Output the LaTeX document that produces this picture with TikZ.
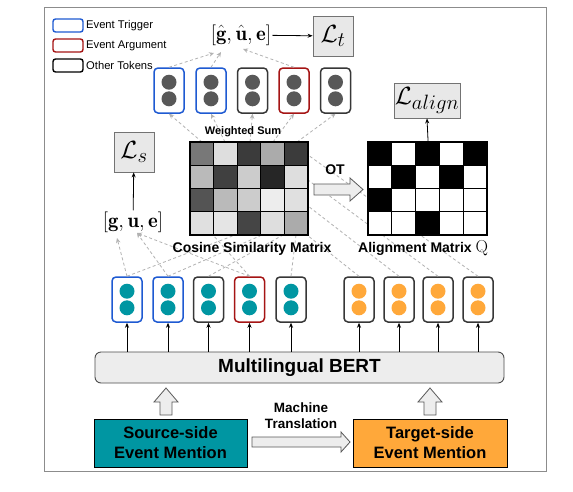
\documentclass[tikz,border=0pt]{standalone}
\usepackage{fontspec}
\setsansfont{Liberation Sans}
\usetikzlibrary{arrows.meta}
\definecolor{trig}{RGB}{30,90,210}
\definecolor{argc}{RGB}{165,20,20}
\definecolor{othc}{RGB}{55,55,55}
\definecolor{teal}{RGB}{0,150,162}
\definecolor{orng}{RGB}{255,168,58}
\definecolor{dotg}{RGB}{88,88,88}
\definecolor{frame}{RGB}{140,140,140}
\newcommand{\tokbox}[5]{%
  \node[tok, draw=#4] (#1) at (#2,#3) {};
  \fill[#5] (#2,#3-8.3) circle[radius=7.5pt];
  \fill[#5] (#2,#3+8.3) circle[radius=7.5pt];}
\begin{document}
\begin{tikzpicture}[x=1pt,y=-1pt,
  tok/.style={rounded corners=4pt, line width=1.5pt, minimum width=30pt, minimum height=45pt, inner sep=0pt, fill=white},
  dsh/.style={draw=black!30, dash pattern=on 3pt off 2.5pt, line width=0.8pt},
  dsharr/.style={dsh, -{Stealth[length=5pt,width=4.5pt]}},
  lossbox/.style={draw=black!55, fill=black!9, line width=0.8pt, inner sep=0pt},
  solidarr/.style={draw=black, line width=0.8pt, -{Stealth[length=5pt,width=4pt]}},
  hollow/.style={draw=black!65, fill=black!7, line width=0.8pt, line join=miter},
  lbl/.style={font=\sffamily\bfseries\fontsize{14}{14}\selectfont, inner sep=0pt},
  legtxt/.style={font=\sffamily\fontsize{11.2}{11.2}\selectfont, anchor=west, inner sep=0pt},
  legbox/.style={rounded corners=2.5pt, line width=1.4pt, minimum width=30pt, minimum height=13pt, inner sep=0pt}]
\useasboundingbox (0,0) rectangle (573,491);
\fill[white] (0,0) rectangle (573,491);
% outer frame
\draw[frame, line width=1pt] (44,7) rectangle (546,471);

% legend
\node[legbox, draw=trig] (lg1) at (68,25.5) {};
\node[legbox, draw=argc] (lg2) at (68,45.5) {};
\node[legbox, draw=black] (lg3) at (68,65.5) {};
\node[legtxt] (lt1) at (86,25.5) {Event Trigger};
\node[legtxt] (lt2) at (86,45.5) {Event Argument};
\node[legtxt] (lt3) at (86,65.5) {Other Tokens};

% coordinates for dashed connections
\coordinate (gA) at (117,238);
\coordinate (gB) at (137,233);
\coordinate (hA) at (214,53);
\coordinate (hB) at (221,52);
\coordinate (hC) at (243,49);

\coordinate (cb1) at (235,235);
\coordinate (cb2) at (262,235);
\coordinate (cb3) at (283,235);
\coordinate (cb4) at (213,235);
\coordinate (cb5) at (296,235);
\coordinate (cr1) at (308,155);
\coordinate (cr2) at (308,180);
\coordinate (cr3) at (308,206);
\coordinate (cr4) at (307,235);

% bottom tokens
\tokbox{s1}{127}{299.5}{trig}{teal}
\tokbox{s2}{168}{299.5}{trig}{teal}
\tokbox{s3}{208.5}{299.5}{othc}{teal}
\tokbox{s4}{249.5}{299.5}{argc}{teal}
\tokbox{s5}{291}{299.5}{othc}{teal}
\tokbox{r1}{359}{299.5}{othc}{orng}
\tokbox{r2}{399}{299.5}{othc}{orng}
\tokbox{r3}{438}{299.5}{othc}{orng}
\tokbox{r4}{478}{299.5}{othc}{orng}

\draw[dsh] (s1.north) -- (cb1);
\draw[dsh] (s2.north) -- (cb2);
\draw[dsh] (s3.north) -- (cb3);
\draw[dsh] (s4.north) -- (cb4);
\draw[dsh] (s5.north) -- (cb5);
\draw[dsh] (r1.north) -- (cr4);
\draw[dsh] (r2.north) -- (cr3);
\draw[dsh] (r3.north) -- (cr2);
\draw[dsh] (r4.north) -- (cr1);

\draw[dsharr] (s1.north) -- (gA);
\draw[dsharr] (s2.north) -- (gB);
\draw[dsharr] (s4.north) -- (gB);

% top tokens
\tokbox{t1}{169}{90.5}{trig}{dotg}
\tokbox{t2}{211}{90.5}{trig}{dotg}
\tokbox{t3}{252.5}{90.5}{othc}{dotg}
\tokbox{t4}{294}{90.5}{argc}{dotg}
\tokbox{t5}{335.5}{90.5}{othc}{dotg}

\draw[dsharr] (t1.north) -- (hA);
\draw[dsharr] (t2.north) -- (hB);
\draw[dsharr] (t4.north) -- (hC);

% weighted sum arrows
\coordinate (ct1) at (202,142);
\coordinate (ct2) at (225,142);
\coordinate (ct3) at (250,142);
\coordinate (ct4) at (273,142);
\coordinate (ct5) at (297,142);
\draw[dsharr] (ct1) -- (t1.south);
\draw[dsharr] (ct2) -- (t2.south);
\draw[dsharr] (ct3) -- (t3.south);
\draw[dsharr] (ct4) -- (t4.south);
\draw[dsharr] (ct5) -- (t5.south);

% ---------------- cosine matrix ----------------
\node[draw=black, line width=1.2pt, minimum width=118pt, minimum height=93pt, inner sep=0pt, anchor=north west] (cos) at (190,142) {};
\foreach \r/\vals in {0/{53,13,77,33,77},1/{27,75,20,85,13},2/{67,27,20,7,12},3/{12,10,73,13,33}}{
  \foreach \v [count=\c from 0] in \vals {
    \fill[black!\v] (190+\c*23.6,142+\r*23.25) rectangle ++(23.6,23.25);
  }
}
\foreach \c in {1,...,4} \draw[line width=1.2pt] (190+\c*23.6,142) -- (190+\c*23.6,235);
\foreach \r in {1,2,3} \draw[line width=1.2pt] (190,142+\r*23.25) -- (308,142+\r*23.25);
\draw[line width=1.2pt] (190,142) rectangle (308,235);

% ---------------- alignment matrix ----------------
\node[draw=black, line width=1.2pt, minimum width=119pt, minimum height=93pt, inner sep=0pt, anchor=north west, fill=white] (alm) at (368,142) {};
\foreach \r/\vals in {0/{1,0,1,0,1},1/{0,1,0,1,0},2/{1,0,0,0,0},3/{0,0,1,0,0}}{
  \foreach \v [count=\c from 0] in \vals {
    \ifnum\v=1 \fill[black] (368+\c*23.8,142+\r*23.25) rectangle ++(23.8,23.25); \fi
  }
}
\foreach \c in {1,...,4} \draw[line width=1.2pt] (368+\c*23.8,142) -- (368+\c*23.8,235);
\foreach \r in {1,2,3} \draw[line width=1.2pt] (368,142+\r*23.25) -- (487,142+\r*23.25);
\draw[line width=1.2pt] (368,142) rectangle (487,235);

% labels
\node[lbl, font=\sffamily\bfseries\fontsize{11}{11}\selectfont] (ws) at (243,132) {Weighted Sum};
\node[lbl] (csm) at (252,249) {Cosine Similarity Matrix};
\node[lbl, anchor=west] (amt) at (358,248) {Alignment Matrix \fontsize{17.28}{17.28}\selectfont$\mathrm{Q}$};
\node[lbl] (ot) at (335,170) {OT};

% OT arrow
\draw[hollow] (314,184) -- (350,184) -- (350,178) -- (363,189.5) -- (350,201) -- (350,195) -- (314,195) -- cycle;

% loss boxes
\node[font=\fontsize{20.74}{20.74}\selectfont, inner sep=1pt] (ghat) at (241,35) {$[\hat{\mathbf{g}},\hat{\mathbf{u}},\mathbf{e}]$};
\node[lossbox, minimum width=40pt, minimum height=40pt] (Lt) at (333,36) {\fontsize{24.88}{24.88}\selectfont$\mathcal{L}_t$};
\draw[solidarr] (ghat) -- (Lt);

\node[font=\fontsize{20.74}{20.74}\selectfont, inner sep=1pt] (gue) at (133,222) {$[\mathbf{g},\mathbf{u},\mathbf{e}]$};
\node[lossbox, minimum width=40pt, minimum height=40pt] (Ls) at (134,152) {\fontsize{24.88}{24.88}\selectfont$\mathcal{L}_s$};
\draw[solidarr] (gue) -- (Ls);

\node[lossbox, minimum width=66pt, minimum height=35pt] (La) at (427,100.5) {\fontsize{24.88}{24.88}\selectfont$\mathcal{L}_{align}$};
\draw[solidarr] (alm.north) -- (La.south);

% BERT
\node[draw=black!70, fill=black!7, rounded corners=6pt, line width=0.9pt, minimum width=409pt, minimum height=31pt, inner sep=0pt, font=\sffamily\bfseries\fontsize{19}{19}\selectfont] (bert) at (299.5,367.5) {Multilingual BERT};
\foreach \n in {s1,s2,s3,s4,s5,r1,r2,r3,r4}
  \draw[solidarr] (bert.north -| \n.south) -- (\n.south);

% source / target boxes
\node[draw=black, fill=teal, line width=0.9pt, minimum width=153pt, minimum height=48pt, inner sep=0pt, align=center, font=\sffamily\bfseries\fontsize{16.5}{20}\selectfont] (src) at (170.5,443) {Source-side\\Event Mention};
\node[draw=black, fill=orng, line width=0.9pt, minimum width=154pt, minimum height=48pt, inner sep=0pt, align=center, font=\sffamily\bfseries\fontsize{16.5}{20}\selectfont] (tgt) at (430,443) {Target-side\\Event Mention};
\node[align=center, inner sep=0pt, font=\sffamily\bfseries\fontsize{13.5}{16}\selectfont] (mt) at (301,416) {Machine\\Translation};

% hollow arrows
\draw[hollow] (160,415) -- (160,402) -- (154,402) -- (166,388) -- (178,402) -- (172,402) -- (172,415) -- cycle;
\draw[hollow] (424,415) -- (424,402) -- (418,402) -- (430,388) -- (442,402) -- (436,402) -- (436,415) -- cycle;
\draw[hollow] (252,437) -- (341,437) -- (341,432) -- (350,442) -- (341,452) -- (341,447) -- (252,447) -- cycle;
\end{tikzpicture}
\end{document}
